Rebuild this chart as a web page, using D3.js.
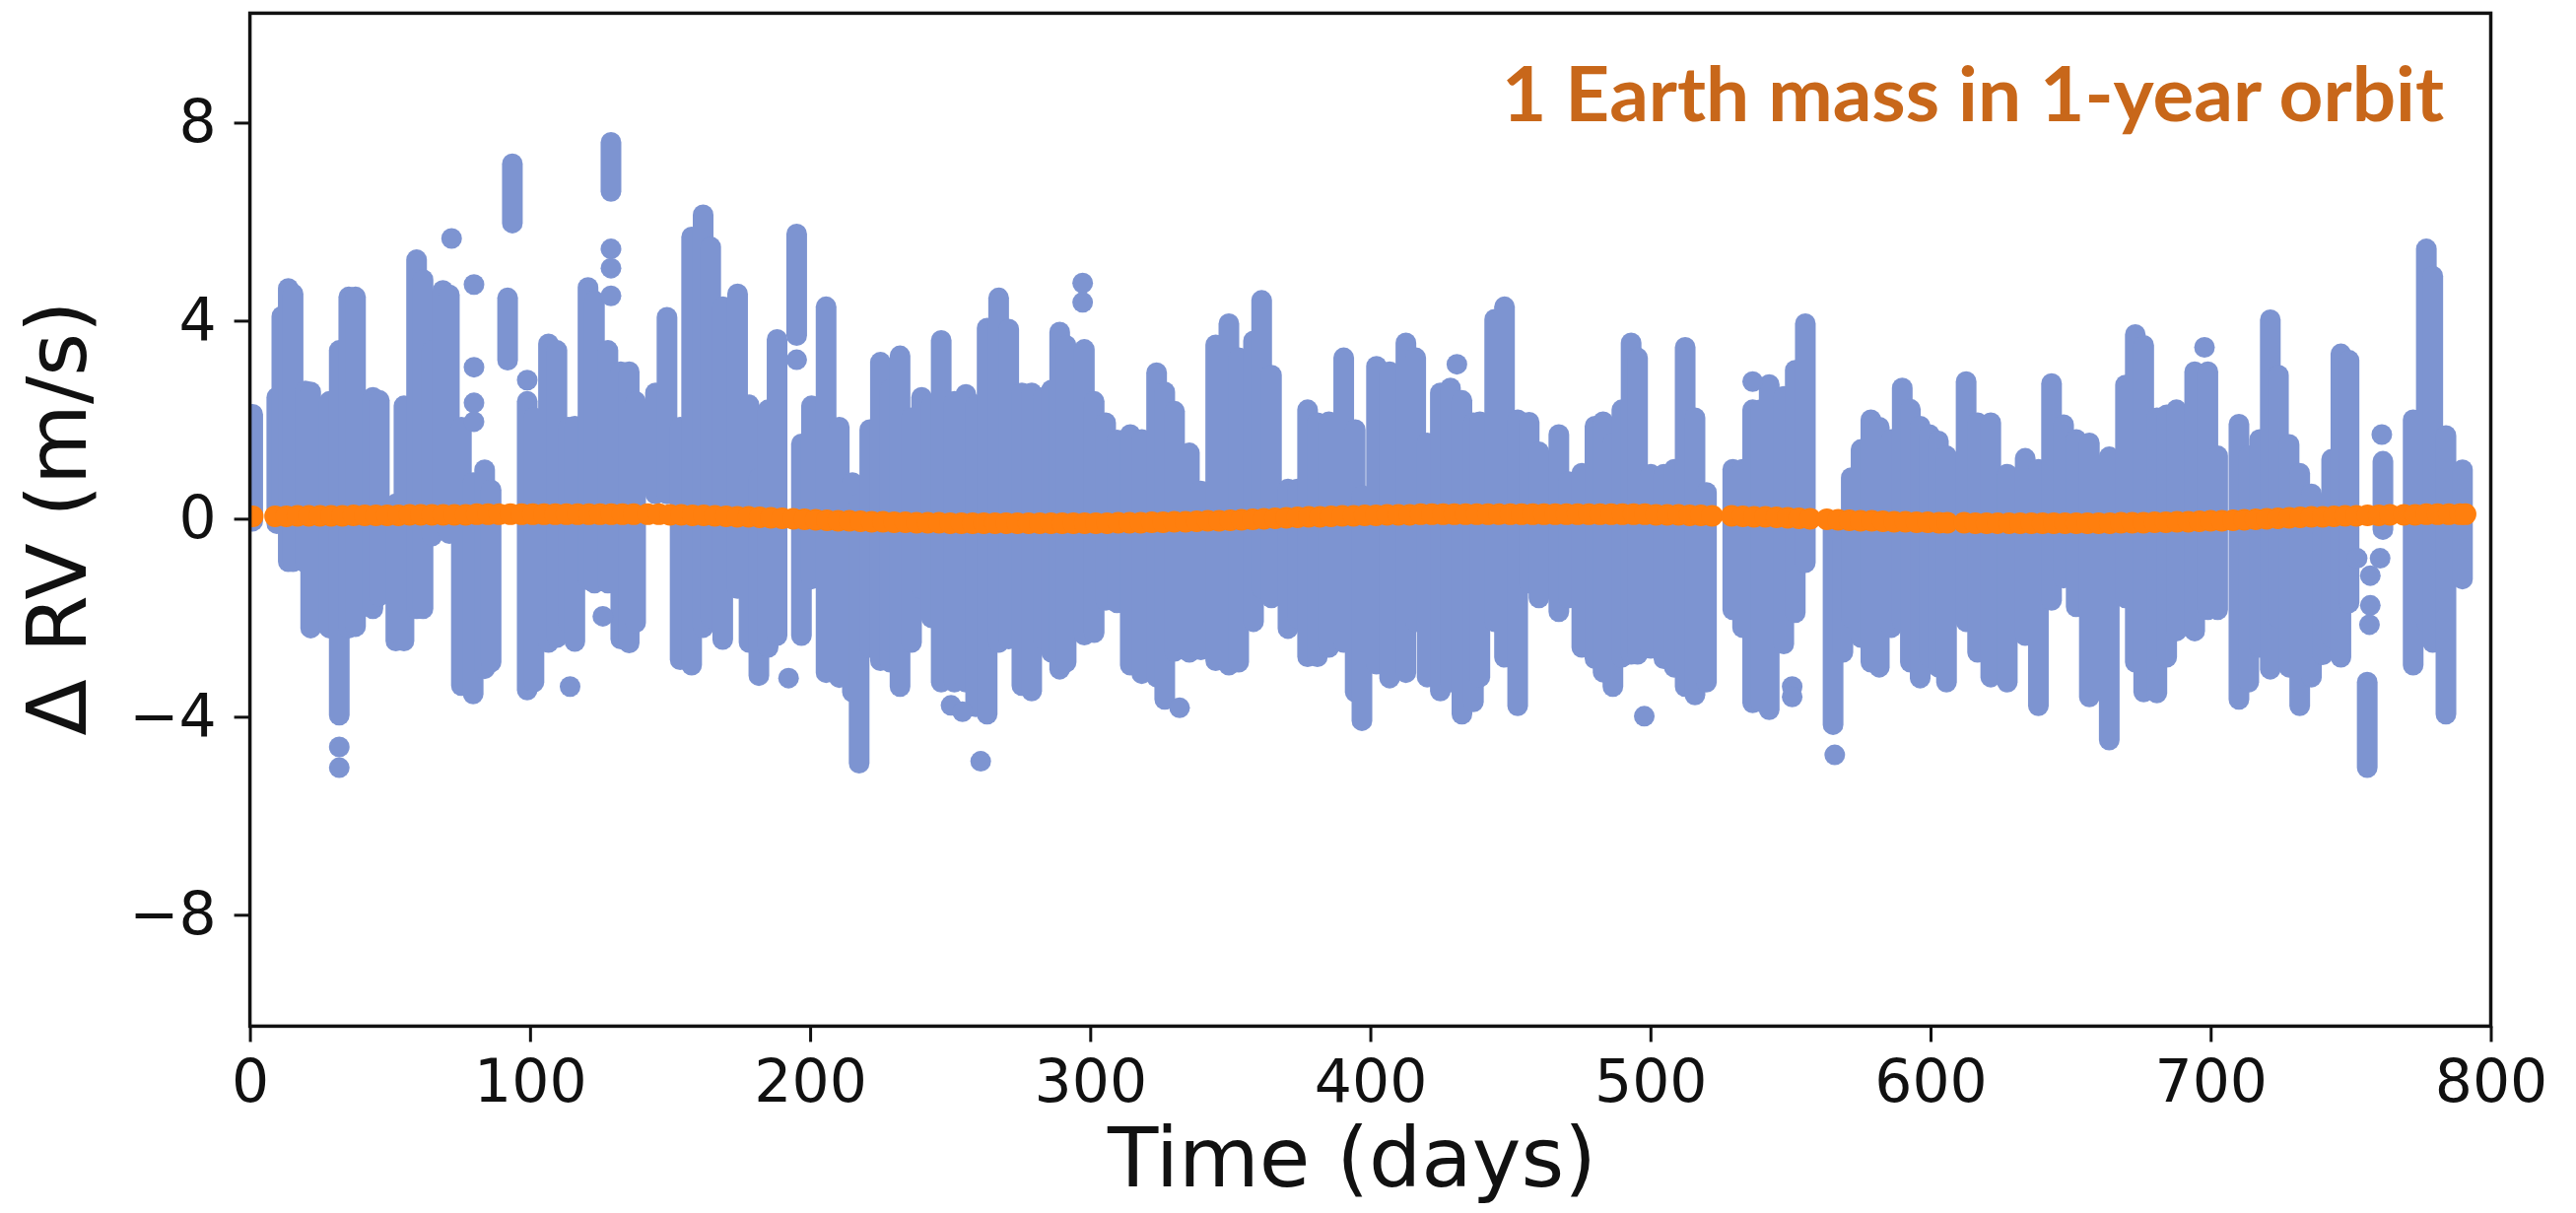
<!DOCTYPE html>
<html>
<head>
<meta charset="utf-8">
<script src="https://cdn.jsdelivr.net/npm/d3@7"></script>
<style>
  html, body { margin: 0; padding: 0; background: #ffffff; }
  svg { display: block; }
</style>
</head>
<body>
<svg id="chart" width="2614" height="1231"></svg>
<script>
// Axis ticks
const xTicks = [0, 100, 200, 300, 400, 500, 600, 700, 800];
const yTicks = [-8, -4, 0, 4, 8];
const yTickLabels = ["\u22128", "\u22124", "0", "4", "8"];

// Solar RV residuals: each night's spread of measurements [day, lowest, highest] (m/s)
const rvColumns = [
  [1.0,-0.05,2.11],[9.6,-0.10,2.45],[11.4,-0.10,4.09],[13.7,-0.87,4.65],[15.4,-0.87,4.54],
  [19.8,-0.89,2.58],[21.7,-2.21,2.56],[28.4,-2.21,2.37],[31.9,-3.97,3.40],[35.3,-2.21,4.48],
  [37.7,-2.18,4.48],[43.9,-1.82,2.45],[46.2,-1.56,2.39],[52.1,-2.47,0.30],[55.0,-2.47,2.28],
  [59.5,-1.82,5.23],[61.8,-1.82,4.83],[65.0,-0.35,3.40],[68.9,-0.10,4.61],[71.2,-0.30,4.52],
  [75.5,-3.37,1.85],[79.7,-3.54,0.73],[83.8,-3.03,0.99],[86.1,-2.90,0.58],[92.0,3.20,4.46],
  [93.7,5.97,7.17],[99.0,-3.46,2.37],[101.4,-3.30,2.04],[106.6,-2.50,3.53],[109.6,-2.40,3.40],
  [113.7,-2.10,1.85],[116.0,-2.48,1.87],[120.7,-1.24,4.67],[123.0,-1.30,4.40],[127.8,-1.30,3.40],
  [128.9,6.61,7.60],[132.4,-2.43,2.97],[135.4,-2.51,2.97],[137.7,-2.10,2.37],[144.8,0.50,2.54],
  [148.9,0.50,4.07],[153.6,-2.85,1.85],[157.7,-2.96,5.69],[161.8,-2.20,6.14],[164.5,-2.00,5.49],
  [168.8,-2.44,4.28],[174.1,-1.41,4.54],[178.2,-2.50,2.30],[181.7,-3.17,0.82],[185.0,-2.60,2.20],
  [188.2,-2.36,3.62],[195.2,3.70,5.75],[196.9,-2.36,1.51],[200.5,-1.22,2.28],[205.7,-3.11,4.28],
  [210.4,-3.21,1.85],[215.1,-3.50,0.73],[217.5,-4.94,0.30],[221.3,-2.60,1.80],[225.1,-2.87,3.16],
  [228.6,-2.90,2.60],[232.1,-3.39,3.29],[236.2,-2.50,2.04],[239.8,-1.41,2.45],[243.3,-2.00,2.30],
  [246.8,-3.30,3.60],[251.5,-3.30,2.37],[255.6,-3.30,2.51],[259.1,-3.80,2.30],[263.2,-3.95,3.85],
  [267.3,-2.50,4.46],[270.9,-2.43,3.83],[275.6,-3.37,2.54],[279.1,-3.48,2.54],[283.2,-2.43,2.45],
  [286.2,-2.70,2.60],[289.1,-3.04,3.77],[291.4,-2.90,3.50],[297.9,-2.35,3.42],[301.4,-2.30,2.37],
  [305.5,-1.65,1.94],[309.6,-1.70,1.59],[314.3,-2.96,1.70],[318.4,-3.13,1.60],[323.7,-3.20,2.95],
  [326.6,-3.65,2.56],[330.1,-2.68,2.17],[335.4,-2.70,1.33],[339.5,-2.65,0.56],[344.8,-2.87,3.51],
  [349.5,-2.96,3.94],[353.0,-2.90,3.25],[358.3,-2.08,3.59],[361.2,-1.40,4.41],[364.7,-1.60,2.90],
  [370.6,-2.22,0.60],[374.0,-2.00,0.60],[377.6,-2.79,2.20],[381.1,-2.79,1.94],[385.2,-2.60,1.96],
  [390.5,-2.50,3.25],[394.6,-3.50,1.80],[397.0,-4.08,0.47],[402.2,-2.94,3.08],[406.9,-3.22,2.97],
  [412.7,-3.11,3.55],[416.2,-2.08,3.25],[420.3,-3.20,1.53],[425.0,-3.48,2.54],[428.6,-3.30,2.64],
  [432.7,-3.95,2.39],[436.8,-3.70,1.94],[439.1,-3.20,1.96],[444.4,-2.08,4.03],[447.9,-2.80,4.28],
  [452.6,-3.78,2.00],[456.7,-1.30,1.95],[460.2,-1.60,1.35],[467.3,-1.88,1.70],[470.8,-1.60,0.75],
  [475.5,-2.60,0.92],[480.2,-2.83,1.87],[483.1,-3.10,1.96],[486.6,-3.39,1.53],[489.8,-2.80,2.20],
  [493.1,-2.74,3.55],[495.4,-2.74,3.25],[500.1,-2.62,0.90],[504.8,-2.83,0.90],[508.5,-3.00,1.00],
  [512.4,-3.39,3.46],[515.9,-3.56,2.04],[520.0,-3.30,0.53],[529.4,-1.84,1.00],[532.9,-2.20,1.00],
  [536.5,-3.72,2.20],[539.4,-3.70,2.20],[542.4,-3.86,2.71],[547.6,-2.53,2.47],[551.7,-1.90,3.00],
  [555.3,-0.89,3.94],[565.2,-4.16,-0.20],[568.7,-2.70,-0.42],[571.7,-2.00,0.83],[575.2,-2.40,1.40],
  [578.7,-2.90,2.00],[581.7,-3.00,1.85],[586.0,-2.20,1.60],[589.9,-2.08,2.64],[592.8,-2.90,2.21],
  [596.3,-3.22,1.87],[599.6,-2.80,1.70],[602.8,-3.00,1.57],[605.7,-3.30,1.27],[612.7,-2.08,2.77],
  [616.8,-2.70,1.94],[621.5,-3.20,1.94],[627.4,-3.30,0.90],[633.8,-2.36,1.22],[638.5,-3.78,1.00],
  [643.2,-1.65,2.73],[647.5,-1.20,1.90],[652.0,-1.78,1.60],[656.7,-3.60,1.53],[663.8,-4.47,1.25],
  [669.6,-1.60,2.70],[673.1,-2.90,3.72],[676.1,-3.50,3.50],[680.8,-3.52,2.04],[684.3,-2.80,2.10],
  [687.8,-2.27,2.20],[694.3,-2.27,2.97],[699.0,-1.84,2.97],[702.5,-1.84,1.27],[710.1,-3.65,1.91],
  [713.6,-3.30,1.27],[717.5,-2.60,1.60],[721.3,-3.04,4.02],[724.2,-2.00,2.90],[728.0,-3.00,1.50],
  [731.8,-3.78,0.92],[736.0,-3.20,0.50],[740.0,-2.75,-0.30],[743.2,-2.40,1.20],[746.5,-2.80,3.33],
  [749.4,-1.70,3.20],[755.9,-5.03,-3.30],[761.5,-0.22,1.16],[772.3,-2.96,2.00],[777.0,-2.08,5.45],
  [779.3,-2.50,4.90],[784.0,-3.95,1.68],[789.9,-1.22,0.99]
];

// Single measurements standing apart from their night's spread [day, RV]
const rvPoints = [
  [31.9,-4.61],[31.9,-5.03],[72.0,5.66],[80.0,4.73],[80.0,3.06],[80.0,2.34],[80.0,1.96],
  [99.0,2.80],[114.3,-3.39],[126.0,-1.97],[128.9,5.45],[128.9,5.06],[128.9,4.50],
  [192.3,-3.22],[195.2,3.21],[250.3,-3.77],[254.4,-3.90],[260.9,-4.90],[297.3,4.76],[297.3,4.37],
  [331.9,-3.82],[430.9,3.12],[497.8,-3.99],[536.5,2.77],[550.6,-3.39],[550.6,-3.60],[565.8,-4.77],
  [697.8,3.46],[752.3,-0.80],[757.0,-1.15],[757.0,-1.75],[756.7,-2.14],[760.5,-0.80],[761.1,1.70]
];

// Injected signal of a 1 Earth-mass planet on a 1-year orbit [day, RV]
const planetSignal = [
  [1,0.05],[9,0.05],[13,0.05],[17,0.06],[21,0.06],[25,0.06],[29,0.06],[33,0.06],[37,0.07],[41,0.07],
  [45,0.07],[49,0.07],[53,0.07],[57,0.08],[61,0.08],[65,0.08],[69,0.08],[73,0.08],[77,0.08],[81,0.09],
  [85,0.09],[89,0.09],[93,0.09],[97,0.09],[101,0.09],[105,0.09],[109,0.09],[113,0.09],[117,0.09],[121,0.09],
  [125,0.09],[129,0.09],[133,0.09],[137,0.09],[142,0.09],[146,0.09],[150,0.08],[154,0.08],[158,0.07],[162,0.07],
  [166,0.06],[170,0.05],[174,0.04],[178,0.04],[182,0.03],[186,0.02],[190,0.01],[194,0.00],[198,-0.01],[202,-0.02],
  [206,-0.03],[210,-0.04],[214,-0.04],[218,-0.05],[222,-0.06],[226,-0.06],[230,-0.07],[234,-0.07],[238,-0.08],[242,-0.08],
  [246,-0.08],[250,-0.09],[254,-0.09],[258,-0.09],[262,-0.09],[266,-0.09],[270,-0.09],[274,-0.09],[278,-0.09],[282,-0.09],
  [286,-0.09],[290,-0.09],[294,-0.09],[298,-0.09],[302,-0.09],[306,-0.09],[310,-0.08],[314,-0.08],[318,-0.08],[322,-0.07],
  [326,-0.07],[330,-0.06],[334,-0.06],[338,-0.05],[342,-0.04],[346,-0.04],[350,-0.03],[354,-0.02],[358,-0.01],[362,0.00],
  [366,0.01],[370,0.02],[374,0.03],[378,0.04],[382,0.04],[386,0.05],[390,0.06],[394,0.06],[398,0.07],[402,0.07],
  [406,0.08],[410,0.08],[414,0.08],[418,0.09],[422,0.09],[426,0.09],[430,0.09],[434,0.09],[438,0.09],[442,0.09],
  [446,0.09],[450,0.09],[454,0.09],[458,0.09],[462,0.09],[466,0.09],[470,0.09],[474,0.09],[478,0.09],[482,0.09],
  [486,0.09],[490,0.09],[494,0.09],[498,0.09],[502,0.08],[506,0.08],[510,0.08],[514,0.07],[518,0.07],[522,0.06],
  [529,0.06],[533,0.05],[537,0.04],[541,0.04],[545,0.03],[549,0.02],[553,0.01],[557,0.00],
  [563,-0.01],[567,-0.02],[571,-0.03],[575,-0.04],[579,-0.04],[583,-0.05],[587,-0.06],[591,-0.06],[595,-0.07],[599,-0.07],
  [603,-0.08],[606,-0.08],[612,-0.08],[616,-0.09],[620,-0.09],[624,-0.09],[628,-0.09],[632,-0.09],[636,-0.09],[640,-0.09],
  [644,-0.09],[648,-0.09],[652,-0.09],[656,-0.09],[660,-0.09],[664,-0.09],[668,-0.08],[672,-0.08],[676,-0.08],[680,-0.07],
  [684,-0.07],[688,-0.06],[692,-0.06],[696,-0.05],[700,-0.04],[704,-0.04],[708,-0.03],[712,-0.02],[716,-0.01],[720,0.00],
  [724,0.01],[728,0.02],[732,0.03],[736,0.04],[740,0.04],[744,0.05],[748,0.06],[752,0.06],[756,0.07],[760,0.07],
  [764,0.08],[769,0.08],[773,0.08],[777,0.09],[781,0.09],[785,0.09],[789,0.09],[791,0.09]
];

const titleText = "1 Earth mass in 1-year orbit";
const xLabel = "Time (days)";
const yLabel = "\u0394 RV (m/s)";

// Layout
const plot = { left: 253.6, right: 2527.5, top: 13.4, bottom: 1041.4 };
const dotR = 10.5;
const blue = "#7d94d1";
const orange = "#ff7f0e";

const svg = d3.select("#chart");

const x = d3.scaleLinear().domain([0, 800]).range([plot.left, plot.right]);
const y = d3.scaleLinear().domain([-10.25, 10.21]).range([plot.bottom, plot.top]);

const clipId = "plot-clip";
svg.append("defs").append("clipPath").attr("id", clipId)
  .append("rect")
  .attr("x", plot.left).attr("y", plot.top)
  .attr("width", plot.right - plot.left).attr("height", plot.bottom - plot.top);

const marks = svg.append("g").attr("clip-path", `url(#${clipId})`);

// Each night's stack of overlapping measurements: a round-capped bar as wide as one dot
marks.append("g").selectAll("line")
  .data(rvColumns)
  .join("line")
  .attr("x1", d => x(d[0])).attr("x2", d => x(d[0]))
  .attr("y1", d => y(d[1])).attr("y2", d => y(d[2]))
  .attr("stroke", blue)
  .attr("stroke-width", dotR * 2)
  .attr("stroke-linecap", "round");

marks.append("g").selectAll("circle")
  .data(rvPoints)
  .join("circle")
  .attr("cx", d => x(d[0])).attr("cy", d => y(d[1]))
  .attr("r", dotR)
  .attr("fill", blue);

// Planet signal on top
marks.append("g").selectAll("circle")
  .data(planetSignal)
  .join("circle")
  .attr("cx", d => x(d[0])).attr("cy", d => y(d[1]))
  .attr("r", dotR + 0.5)
  .attr("fill", orange);

// Axes
const fontFamily = "'DejaVu Sans', Verdana, sans-serif";

const xAxis = d3.axisBottom(x).tickValues(xTicks).tickSize(16).tickSizeOuter(0).tickPadding(18)
  .tickFormat(d3.format("d"));
const gx = svg.append("g").attr("transform", `translate(0,${plot.bottom})`).call(xAxis);

const yAxis = d3.axisLeft(y).tickValues(yTicks).tickSize(16).tickSizeOuter(0).tickPadding(18)
  .tickFormat((d, i) => yTickLabels[i]);
const gy = svg.append("g").attr("transform", `translate(${plot.left},0)`).call(yAxis);

[gx, gy].forEach(g => {
  g.select(".domain").remove();
  g.selectAll(".tick line").attr("stroke", "#111").attr("stroke-width", 3);
  g.selectAll(".tick text")
    .attr("fill", "#111")
    .style("font-family", fontFamily)
    .style("font-size", "60px");
});

// Frame
svg.append("rect")
  .attr("x", plot.left).attr("y", plot.top)
  .attr("width", plot.right - plot.left).attr("height", plot.bottom - plot.top)
  .attr("fill", "none").attr("stroke", "#111").attr("stroke-width", 3.5);

// Axis titles
svg.append("text")
  .attr("x", 1372).attr("y", 1204)
  .attr("text-anchor", "middle")
  .attr("fill", "#111")
  .style("font-family", fontFamily)
  .style("font-size", "84px")
  .text(xLabel);

svg.append("text")
  .attr("transform", "translate(87,526) rotate(-90)")
  .attr("text-anchor", "middle")
  .attr("fill", "#111")
  .style("font-family", fontFamily)
  .style("font-size", "84px")
  .text(yLabel);

// Annotation
svg.append("text")
  .attr("x", 1524).attr("y", 122.7)
  .attr("textLength", 956)
  .attr("lengthAdjust", "spacingAndGlyphs")
  .attr("fill", "#c8671a")
  .style("font-family", "Lato, 'Open Sans', sans-serif")
  .style("font-weight", "700")
  .style("font-size", "76px")
  .text(titleText);
</script>
</body>
</html>
